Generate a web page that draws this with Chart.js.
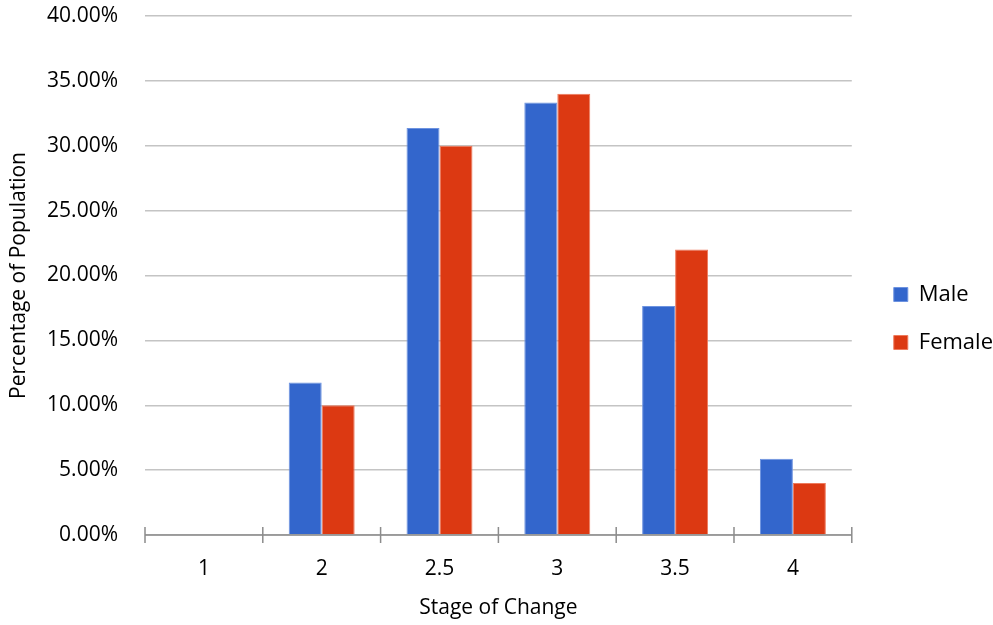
<!DOCTYPE html>
<html>
<head>
<meta charset="utf-8">
<script src="https://cdn.jsdelivr.net/npm/chart.js@4"></script>
<style>
  html, body { margin: 0; padding: 0; background: #fff; }
  #wrap { width: 993px; height: 625px; }
</style>
</head>
<body>
<div id="wrap"><canvas id="barChart" width="993" height="625"></canvas></div>
<script>
// data
const stages = ['1', '2', '2.5', '3', '3.5', '4'];
const maleValues = [0, 11.76, 31.37, 33.33, 17.65, 5.88];
const femaleValues = [0, 10.0, 30.0, 34.0, 22.0, 4.0];
const yTicks = [0, 5, 10, 15, 20, 25, 30, 35, 40];

const fontFamily = '"Open Sans", "Noto Sans", sans-serif';
const legendExtra = 16; // extra gap between plot and legend

// tick marks crossing the x axis (above and below the line)
const crossTicks = {
  id: 'crossTicks',
  afterLayout(chart) {
    // keep legend items near the right edge while the plot ends earlier
    if (chart.legend) {
      chart.legend.left += legendExtra;
      chart.legend.top += 14;
    }
  },
  afterDraw(chart) {
    const xs = chart.scales.x;
    const y = chart.chartArea.bottom;
    const ctx = chart.ctx;
    ctx.save();
    ctx.strokeStyle = '#8c8c8c';
    ctx.lineWidth = 1.5;
    ctx.beginPath();
    ctx.moveTo(chart.chartArea.left, y);
    ctx.lineTo(chart.chartArea.right, y);
    for (let i = 0; i <= stages.length; i++) {
      const x = xs.getPixelForValue(i - 0.5);
      ctx.moveTo(x, y - 8);
      ctx.lineTo(x, y + 8);
    }
    ctx.stroke();
    ctx.restore();
  }
};

const chart = new Chart(document.getElementById('barChart').getContext('2d'), {
  type: 'bar',
  data: {
    labels: stages,
    datasets: [
      { label: 'Male', data: maleValues, backgroundColor: '#3366cc', borderColor: '#6d93e0', borderWidth: 1 },
      { label: 'Female', data: femaleValues, backgroundColor: '#dc3912', borderColor: '#ee7a5c', borderWidth: 1 }
    ]
  },
  options: {
    responsive: false,
    animation: false,
    devicePixelRatio: 1,
    layout: { padding: { top: 0, left: 2, right: -10, bottom: 2 } },
    datasets: { bar: { categoryPercentage: 0.56, barPercentage: 1.0 } },
    plugins: {
      legend: {
        position: 'right',
        labels: {
          color: '#000',
          font: { family: fontFamily, size: 22 },
          boxWidth: 14,
          boxHeight: 14,
          padding: 26
        }
      },
      tooltip: { enabled: false }
    },
    scales: {
      x: {
        afterFit(scale) { scale.height = 88; },
        grid: { display: true, drawOnChartArea: false, drawTicks: false, offset: true },
        border: { display: false },
        ticks: { color: '#000', font: { family: fontFamily, size: 21 }, padding: 21 },
        title: { display: true, text: 'Stage of Change', color: '#000', font: { family: fontFamily, size: 21 }, padding: { top: 4, bottom: 2 } }
      },
      y: {
        min: 0,
        max: 40,
        afterFit(scale) { scale.width = 143; scale.paddingTop = 16; },
        afterBuildTicks(scale) { scale.ticks = yTicks.map(v => ({ value: v })); },
        grid: { color: '#c4c4c4', lineWidth: 1.5, drawTicks: false },
        border: { display: false },
        ticks: {
          color: '#000',
          font: { family: fontFamily, size: 21 },
          padding: 27,
          callback: v => v.toFixed(2) + '%'
        },
        title: { display: true, text: 'Percentage of Population', color: '#000', font: { family: fontFamily, size: 21 }, padding: { top: 4, bottom: 4 } }
      }
    }
  },
  plugins: [crossTicks]
});

// widen the legend box so the plot area stops where the reference does
const baseFit = chart.legend.fit.bind(chart.legend);
chart.legend.fit = function () { baseFit(); this.width += legendExtra; };
chart.update();
</script>
</body>
</html>
